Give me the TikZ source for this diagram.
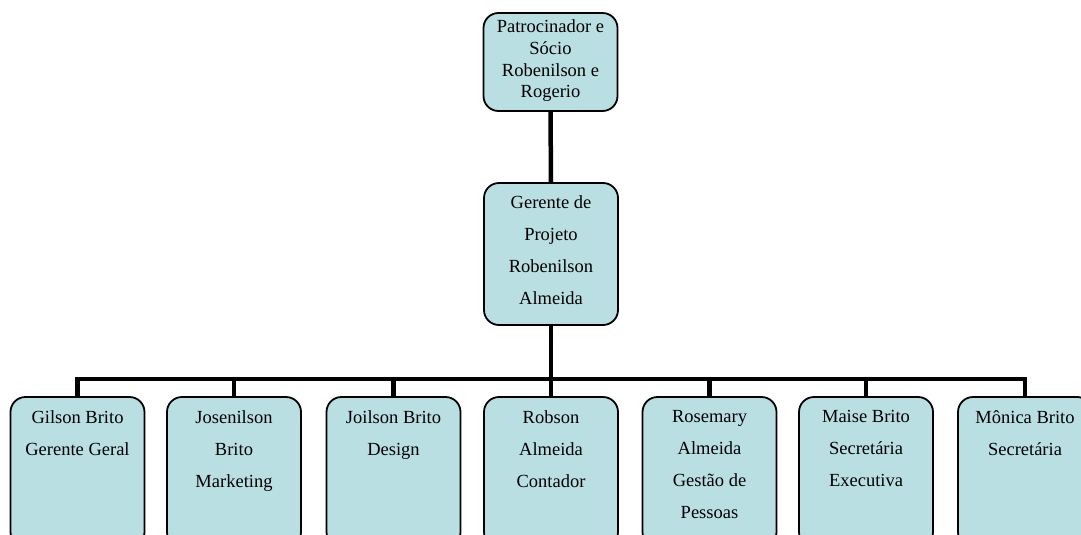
\documentclass[tikz,border=0pt]{standalone}
\usepackage{fontspec}
\setmainfont{Liberation Serif}
\begin{document}
\begin{tikzpicture}[x=1pt,y=-1pt,
  orgbox/.style={draw=black, line width=1.8pt, fill=boxfill, rounded corners=15pt,
    minimum width=134pt, inner sep=0pt, outer sep=0pt},
  toptext/.style={align=center, font=\fontsize{18.5pt}{21.7pt}\selectfont},
  widetext/.style={align=center, font=\fontsize{18.5pt}{32pt}\selectfont},
  leaftext/.style={anchor=north, inner sep=0pt, align=center, font=\fontsize{18.5pt}{32pt}\selectfont},
  conn/.style={draw=black, line width=4.5pt}]
\definecolor{boxfill}{RGB}{185,223,227}
\useasboundingbox (0,0) rectangle (1081,535);
\clip (0,0) rectangle (1081,535);

% top of the chart
\node[orgbox, minimum height=98pt] (top) at (550.5,62) {};
\node[toptext] (toptxt) at (550.5,61) {Patrocinador e\\Sócio\\Robenilson e\\Rogerio};

\node[orgbox, minimum height=142pt] (mid) at (551,254) {};
\node[widetext] (midtxt) at (551,250) {Gerente de\\Projeto\\Robenilson\\Almeida};

% team row
\coordinate (bar) at (551,379);
\foreach \n/\x in {1/77.5,2/234,3/393.5,4/551,5/709.5,6/866,7/1025}{
  \node[orgbox, minimum height=150pt, anchor=north] (b\n) at (\x,397) {};
}
\node[leaftext] (t1) at ([yshift=-13pt]b1.north) {Gilson Brito\\Gerente Geral};
\node[leaftext] (t2) at ([yshift=-13pt]b2.north) {Josenilson\\Brito\\Marketing};
\node[leaftext] (t3) at ([yshift=-13pt]b3.north) {Joilson Brito\\Design};
\node[leaftext] (t4) at ([yshift=-13pt]b4.north) {Robson\\Almeida\\Contador};
\node[leaftext] (t5) at ([yshift=-13pt]b5.north) {Rosemary\\Almeida\\Gestão de\\Pessoas};
\node[leaftext] (t6) at ([yshift=-13pt]b6.north) {Maise Brito\\Secretária\\Executiva};
\node[leaftext] (t7) at ([yshift=-13pt]b7.north) {Mônica Brito\\Secretária};

% connectors
\draw[conn] (top.south) -- (mid.north);
\draw[conn] (mid.south) -- (bar);
\draw[conn] (b1.north) |- (b7.north |- bar) -- (b7.north);
\foreach \n in {2,...,6}{
  \draw[conn] (b\n.north) -- (b\n.north |- bar);
}
\end{tikzpicture}
\end{document}
